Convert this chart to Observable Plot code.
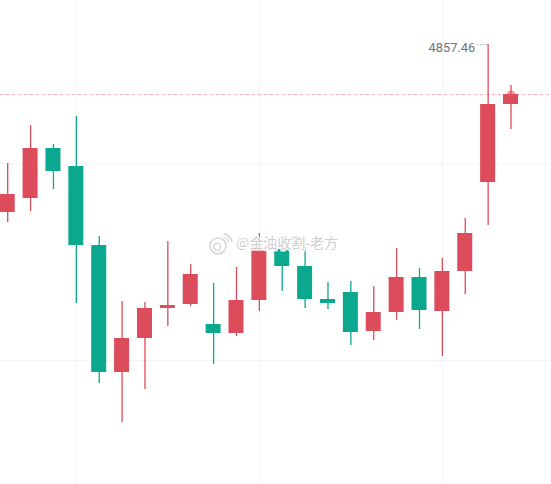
<!DOCTYPE html>
<html>
<head>
<meta charset="utf-8">
<script src="https://cdn.jsdelivr.net/npm/d3@7"></script>
<script src="https://cdn.jsdelivr.net/npm/@observablehq/plot@0.6"></script>
<style>
html,body{margin:0;padding:0;background:#fff;overflow:hidden}
svg{display:block}
</style>
</head>
<body>
<div id="chart"></div>
<script>
const opens  = [4773.5,4780.5,4805.5,4796.5,4757,4693.5,4710.5,4725.5,4727.5,4717.5,4713,4729.5,4755,4746.5,4730,4733.5,4714,4723.5,4741,4724,4744,4788.5,4827.5];
const closes = [4782.5,4805.5,4794,4757,4693.5,4710.5,4725.5,4727,4742.5,4713,4729.5,4755,4746.5,4730,4728,4713.5,4723.5,4741,4724.5,4744,4763,4827.5,4832.5];
const highs  = [4798,4817,4807.5,4821.5,4761.5,4729,4728.5,4759,4747.5,4738,4746,4763,4757.5,4757.5,4738.5,4739,4736.5,4755.5,4745.5,4750.5,4770.5,4857.46,4837];
const lows   = [4768.5,4774,4785,4728,4688,4668.5,4685,4716.5,4726.5,4697.5,4711.5,4724,4734,4725.5,4725,4707,4709.5,4719.5,4715,4701.5,4732.5,4767,4815];
const gridPrices = [4798,4699.5];
const gridCandles = [3,11,19];
const peakLabel = "4857.46";
const watermark = "@金油收割-老方";

const candles = opens.map((open,i)=>({i,open,close:closes[i],high:highs[i],low:lows[i]}));
const last = candles[candles.length-1];
const peak = candles[21];
const RED = "#dc4c5a", GREEN = "#0aa88e";
const colorOf = d => d.close >= d.open ? RED : GREEN;
const halfBody = 0.328;
const wmAnchor = [{i:9.98,p:4757.8}];

const plot = Plot.plot({
  width:551, height:484, margin:0,
  x:{domain:[-0.315,23.77],range:[0,551],axis:null},
  y:{domain:[4879.5,4637.5],range:[0,484],axis:null},
  marks:[
    Plot.ruleY(gridPrices,{stroke:"#f4f4f6",strokeWidth:1}),
    Plot.ruleX(gridCandles,{stroke:"#f4f4f6",strokeWidth:1}),
    Plot.ruleY([last.close],{stroke:"#f7aeb5",strokeWidth:1,strokeDasharray:"3 3"}),
    Plot.dot([last],{x:"i",y:"close",r:4,fill:RED,fillOpacity:0.55}),
    Plot.ruleX(candles,{x:"i",y1:"low",y2:"high",stroke:colorOf,strokeWidth:1.3}),
    Plot.rect(candles,{x1:d=>d.i-halfBody,x2:d=>d.i+halfBody,y1:"open",y2:"close",fill:colorOf}),
    Plot.ruleY([peak.high],{x1:20.55,x2:21,stroke:"#8a8f99",strokeWidth:1,strokeDasharray:"1 2"}),
    Plot.text([peak],{x:"i",y:"high",text:()=>peakLabel,textAnchor:"end",dx:-13,dy:3,fill:"#6d7280",fontSize:12.8,fontFamily:"Roboto, sans-serif"}),
    Plot.text(wmAnchor,{x:"i",y:"p",text:()=>watermark,textAnchor:"start",fontSize:14,fontFamily:"'Noto Sans CJK SC', sans-serif",fill:"#cfcfcf",stroke:"#fff",strokeWidth:3.5,strokeOpacity:0.85,paintOrder:"stroke"}),
    Plot.dot(wmAnchor,{x:"i",y:"p",dx:-18,dy:2,r:8,fill:"#fff",fillOpacity:0.8,stroke:"#cfcfcf",strokeWidth:1.3}),
    Plot.dot(wmAnchor,{x:"i",y:"p",dx:-19,dy:3,r:3.5,fill:"none",stroke:"#cfcfcf",strokeWidth:1.3}),
    Plot.text(wmAnchor,{x:"i",y:"p",dx:-10,dy:-5,rotate:-45,text:()=>")",fontSize:10,fill:"#cfcfcf"}),
    Plot.text(wmAnchor,{x:"i",y:"p",dx:-8,dy:-7,rotate:-45,text:()=>")",fontSize:14,fill:"#cfcfcf"})
  ]
});
document.getElementById("chart").appendChild(plot);
</script>
</body>
</html>
